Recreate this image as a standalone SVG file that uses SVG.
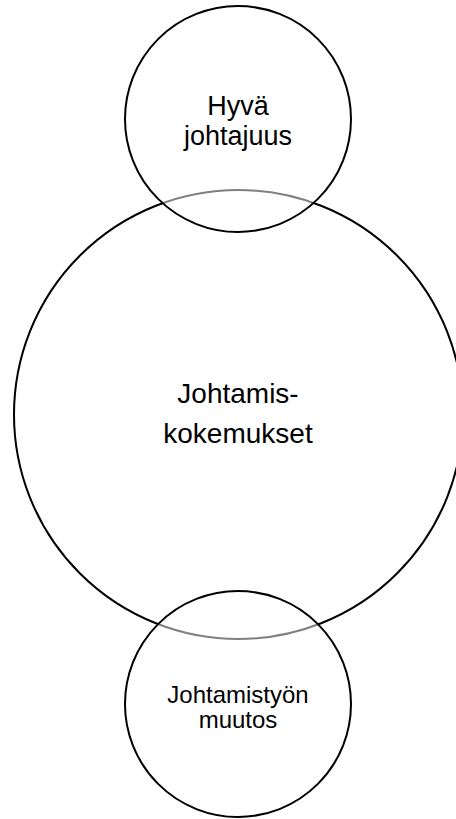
<svg xmlns="http://www.w3.org/2000/svg" width="456" height="819" viewBox="0 0 456 819">
<style>
.c{stroke:#000;stroke-width:2}
.big{fill:#fff}
.small{fill:#fff;fill-opacity:0.5}
text{font-family:"Liberation Sans",Arial,sans-serif;fill:#000;text-anchor:middle}
</style>
<rect width="456" height="819" fill="#fff"/>
<g id="node-kokemukset">
<circle class="c big" cx="238.5" cy="414.5" r="224.5"/>
<text font-size="28"><tspan x="238" y="403">Johtamis-</tspan><tspan x="238" y="443">kokemukset</tspan></text>
</g>
<g id="node-hyva">
<circle class="c small" cx="238" cy="119" r="113"/>
<text font-size="27"><tspan x="238" y="115">Hyvä</tspan><tspan x="238" y="145">johtajuus</tspan></text>
</g>
<g id="node-muutos">
<circle class="c small" cx="238" cy="704" r="113"/>
<text font-size="24"><tspan x="238" y="703">Johtamistyön</tspan><tspan x="238" y="728">muutos</tspan></text>
</g>
<g id="connectors"></g>
</svg>
